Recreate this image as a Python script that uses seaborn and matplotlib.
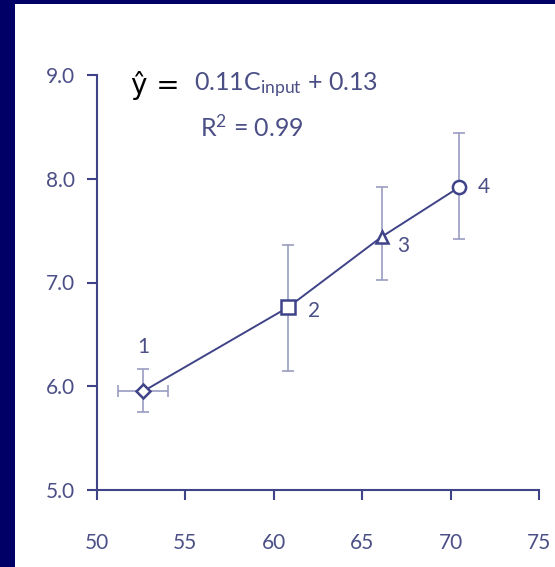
import matplotlib
matplotlib.use("Agg")
import matplotlib.pyplot as plt
from matplotlib.patches import Rectangle
import seaborn as sns
import pandas as pd

# values
c_input = [52.6, 60.8, 66.1, 70.5]
y_hat = [5.95, 6.76, 7.44, 7.92]
y_err_low = [0.20, 0.61, 0.42, 0.50]
y_err_high = [0.22, 0.60, 0.48, 0.52]
x_err = [1.4, 0.35, 0.0, 0.0]
point_labels = ["1", "2", "3", "4"]
markers = ["D", "s", "^", "o"]
x_ticks = [50, 55, 60, 65, 70, 75]
y_ticks = [5.0, 6.0, 7.0, 8.0, 9.0]

navy = "#000066"
line_col = "#3f4388"
text_col = "#4b4f86"
err_col = "#9a9cc2"

sns.set_style("white")
plt.rcParams["font.family"] = ["Lato", "DejaVu Sans"]
plt.rcParams["mathtext.default"] = "regular"

df = pd.DataFrame({"c_input": c_input, "y_hat": y_hat, "marker": markers})

fig = plt.figure(figsize=(5.55, 5.67), dpi=100)
fig.patch.set_facecolor(navy)
fig.patches.append(Rectangle((15 / 555, 0), 1, 1 - 4 / 567, transform=fig.transFigure,
                             facecolor="white", edgecolor="none", zorder=-10))
ax = fig.add_axes([97 / 555, 1 - 490 / 567, 442 / 555, 415 / 567])
ax.set_facecolor("none")

# error bars
ax.errorbar(c_input, y_hat, yerr=[y_err_low, y_err_high], xerr=x_err, fmt="none",
            ecolor=err_col, elinewidth=1.2, capsize=4, capthick=1.2, zorder=2)

# connecting line
sns.lineplot(data=df, x="c_input", y="y_hat", color=line_col, linewidth=1.4,
             ax=ax, zorder=3)

# open markers
sizes = {"D": 7, "s": 9.5, "^": 9, "o": 9.5}
for i, m in enumerate(markers):
    ax.plot(c_input[i], y_hat[i], marker=m, markersize=sizes[m],
            markerfacecolor="white", markeredgecolor=line_col,
            markeredgewidth=1.8, linestyle="none", zorder=4)

# point numbers
label_offsets = [(0, 0.43), (1.45, -0.03), (1.2, -0.09), (1.4, 0.0)]
for i, lab in enumerate(point_labels):
    dx, dy = label_offsets[i]
    ax.text(c_input[i] + dx, y_hat[i] + dy, lab, color=text_col, fontsize=15,
            ha="center", va="center")

# equation
ax.text(51.9, 8.9, "ŷ =", color="black", fontsize=20, ha="left", va="center",
        family=["DejaVu Sans"])
ax.text(55.5, 8.9, "0.11C$_{input}$ + 0.13", color=text_col, fontsize=18,
        ha="left", va="center")
ax.text(55.8, 8.5, "R$^{2}$ = 0.99", color=text_col, fontsize=18,
        ha="left", va="center")

ax.set_xlim(50, 75)
ax.set_ylim(5.0, 9.0)
ax.set_xticks(x_ticks)
ax.set_yticks(y_ticks)
ax.set_yticklabels([f"{v:.1f}" for v in y_ticks])
ax.set_xlabel("")
ax.set_ylabel("")
sns.despine(ax=ax)
for s in ["left", "bottom"]:
    ax.spines[s].set_color(line_col)
    ax.spines[s].set_linewidth(1.5)
ax.tick_params(axis="both", colors=line_col, labelcolor=text_col, labelsize=15,
               direction="out", length=7, width=1.5)
ax.tick_params(axis="x", pad=24)
ax.tick_params(axis="y", pad=9)
ax.tick_params(left=True, bottom=True)

fig.savefig("out.png", dpi=100, facecolor=fig.get_facecolor())
